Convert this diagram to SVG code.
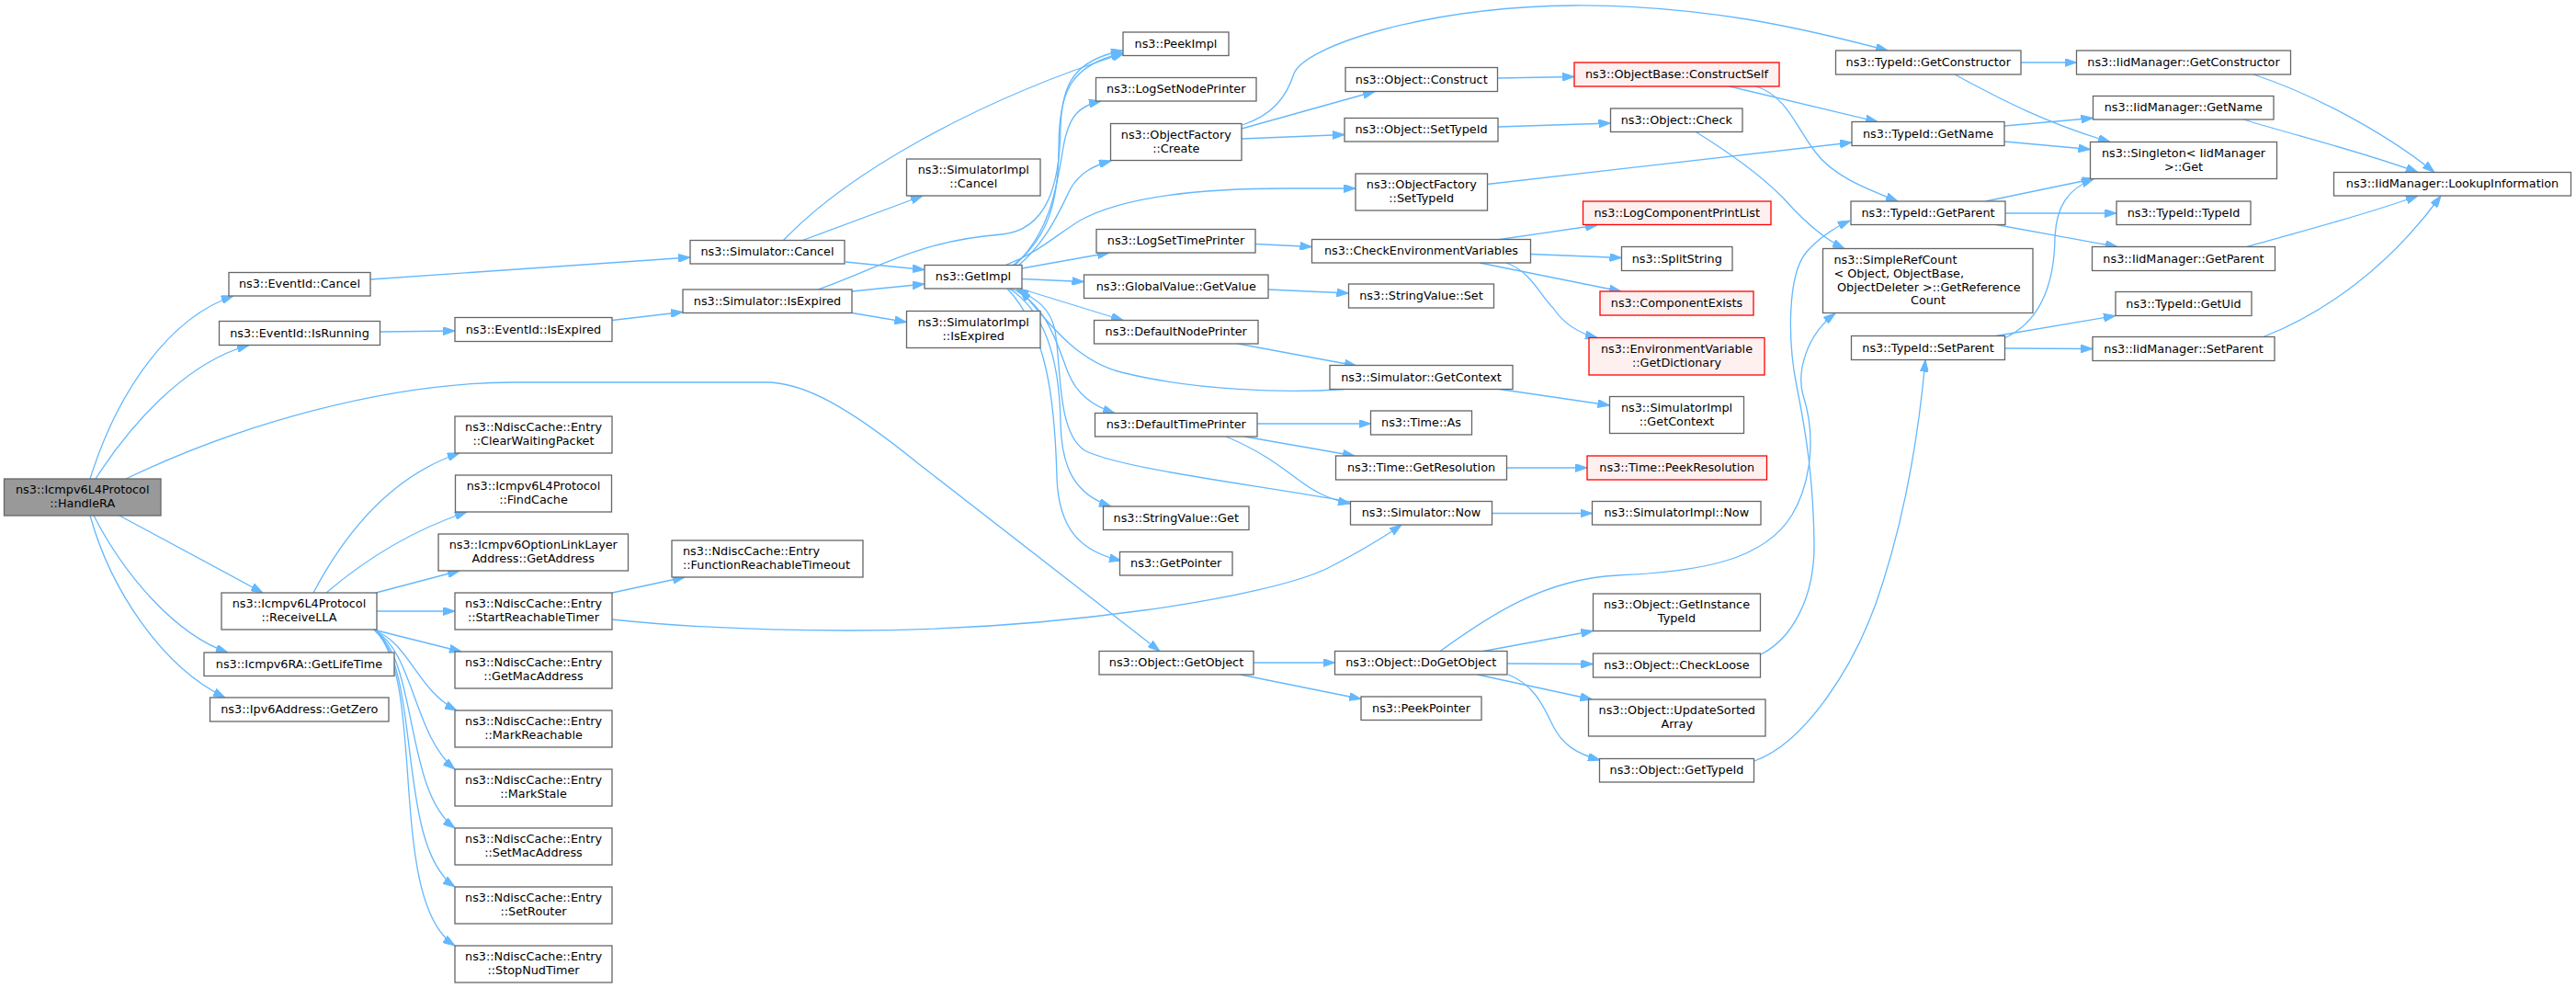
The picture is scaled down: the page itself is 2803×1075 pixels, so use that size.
<svg xmlns="http://www.w3.org/2000/svg" width="2803" height="1075" viewBox="0 0 2803 1075">
<style>
.n rect{fill:#ffffff;stroke:#666666;stroke-width:1.3}
.r rect{fill:#fff0f0;stroke:#ff0000;stroke-width:1.3}
.root rect{fill:#999999;stroke:#666666;stroke-width:1.3}
text{font-family:"DejaVu Sans","Liberation Sans",sans-serif;font-size:12.8px;fill:#000000;text-anchor:middle}
text.l{text-anchor:start}
#edges path{fill:none;stroke:#63b8ff;stroke-width:1.3;marker-end:url(#a)}
</style>
<defs>
<marker id="a" viewBox="0 0 13 9" refX="13" refY="4.5" markerWidth="13" markerHeight="9" markerUnits="userSpaceOnUse" orient="auto"><path d="M0,0L13,4.5L0,9z" fill="#63b8ff" stroke="#63b8ff" stroke-width="1"/></marker>
</defs>
<rect x="0" y="0" width="2803" height="1075" fill="#ffffff"/>
<g id="edges">
<path d="M98,521 C128,425 185,345 254,322"/>
<path d="M104,521 C140,465 200,395 271,375.5"/>
<path d="M137,521 C260,462 420,416 560,416 L838,416 C875,418 920,440 1000,505 L1262,708.5"/>
<path d="M130,561 L286,645"/>
<path d="M102,561 C135,625 190,690 248,710"/>
<path d="M98,561 C120,640 175,725 245,759"/>
<path d="M341,645 C370,590 420,520 500,493"/>
<path d="M355,645 C390,615 440,580 508,557"/>
<path d="M409,645 L500,621"/>
<path d="M410,665 L495,665"/>
<path d="M406,685 L502,709"/>
<path d="M408,686 C445,700 455,752 497,773"/>
<path d="M408,686 C450,710 450,800 495,837"/>
<path d="M408,686 C455,720 440,860 495,901"/>
<path d="M408,686 C460,730 430,920 495,965"/>
<path d="M408,686 C465,740 420,980 495,1029"/>
<path d="M666,645 L745,628"/>
<path d="M666,674 C760,684 850,686 923,686 C1150,686 1380,650 1445,618 C1480,600 1505,585 1525,571"/>
<path d="M403,304 L751,280"/>
<path d="M413.5,361 L495,360"/>
<path d="M666,348.5 L743,339.5"/>
<path d="M852,262 C920,190 1060,110 1223,58"/>
<path d="M872,262 L1004,213"/>
<path d="M920,285 L1006,293.5"/>
<path d="M927,317 L1006,309"/>
<path d="M927,340.5 L986.5,350.5"/>
<path d="M890,315 C960,290 1000,262 1090,255 C1140,250 1153,200 1154,140 C1155,90 1170,65 1222,55"/>
<path d="M1102,289 C1140,260 1152,220 1152,160 C1152,100 1165,70 1222,58"/>
<path d="M1104,289 C1145,250 1150,200 1157,160 C1163,125 1175,115 1198,110"/>
<path d="M1108,289 C1140,262 1155,225 1165,205 C1175,188 1190,180 1209,175"/>
<path d="M1093,289 C1130,275 1150,255 1175,240 C1220,215 1300,205 1400,205 L1475,205"/>
<path d="M1112,292 L1207,275"/>
<path d="M1112,303.5 L1179.5,306.5"/>
<path d="M1110,314 L1222,348.5"/>
<path d="M1100,314 C1140,330 1152,380 1162,405 C1172,430 1190,442 1213,449.5"/>
<path d="M1098,314 C1140,340 1153,400 1154,460 C1155,510 1170,538 1209,551"/>
<path d="M1096,314 C1140,360 1148,440 1150,520 C1152,575 1175,600 1220,610"/>
<path d="M1462,423.5 C1400,428 1300,425 1220,405 C1170,392 1140,350 1110,315"/>
<path d="M1469,546 C1350,525 1220,510 1180,490 C1150,470 1155,400 1148,360 C1143,335 1128,325 1106,315"/>
<path d="M1347,374 L1476,398"/>
<path d="M1368,461 L1491.5,461"/>
<path d="M1354,475 L1474,496"/>
<path d="M1334,475 C1370,490 1390,505 1410,520 C1430,535 1445,543 1469,548"/>
<path d="M1366,265.5 L1427.5,268.5"/>
<path d="M1380,315 L1467.5,319"/>
<path d="M1352,136 C1385,125 1400,105 1408,80 C1420,50 1550,8 1712,6 C1850,5 1960,30 2054,55"/>
<path d="M1351,140 L1496,99.5"/>
<path d="M1351,151 L1463,146.5"/>
<path d="M1629.5,85 L1713,83.5"/>
<path d="M1630,138 L1752.5,134"/>
<path d="M1618,200.5 L2015,155"/>
<path d="M1882,94 L2043,132.5"/>
<path d="M1911,94 C1945,105 1955,140 1975,165 C1995,192 2030,205 2065,219"/>
<path d="M1846,144 C1880,165 1915,190 1940,215 C1962,240 1985,260 2007,270.5"/>
<path d="M1632,260.5 L1738,245"/>
<path d="M1665.5,276.5 L1764.5,280.5"/>
<path d="M1610,286 L1764,317"/>
<path d="M1639,286 C1665,295 1675,320 1690,335 C1700,350 1715,362 1738,367.5"/>
<path d="M1632,423.5 L1751.5,441"/>
<path d="M1639.5,509 L1727,509"/>
<path d="M1624,558.5 L1732.5,558.5"/>
<path d="M2199,68 L2259.5,68"/>
<path d="M2127,81 C2180,110 2230,135 2296,154.5"/>
<path d="M2181,137 L2277.5,128.5"/>
<path d="M2181,154 L2274.5,162.5"/>
<path d="M2160.5,219 L2278.5,194.5"/>
<path d="M2182,232 L2303,232"/>
<path d="M2172,244.5 L2304,268.5"/>
<path d="M2452,81 C2510,100 2590,140 2649,187.5"/>
<path d="M2441,130 C2500,148 2570,165 2631,187.5"/>
<path d="M2445,268.5 C2510,250 2570,235 2631,213"/>
<path d="M2463,366.5 C2530,340 2600,290 2656,213"/>
<path d="M1364,721 L1452.5,721"/>
<path d="M1349.5,734 L1481,760.5"/>
<path d="M1567,708.5 C1620,670 1680,630 1760,626 C1850,622 1920,610 1950,560 C1968,530 1978,480 1962,430 C1955,405 1965,365 1997,341"/>
<path d="M1916,712 C1950,695 1975,650 1974,590 C1973,520 1965,470 1955,420 C1945,370 1945,300 1965,275 C1980,258 1995,248 2013,240"/>
<path d="M1614,708.5 L1733.5,686.5"/>
<path d="M1640,722 L1733.5,722.5"/>
<path d="M1607.5,734 L1732.5,761"/>
<path d="M1641,734 C1670,745 1680,770 1690,790 C1700,810 1715,820 1741,827"/>
<path d="M1909,828 C1960,810 2020,730 2050,630 C2075,550 2088,470 2095,391.5"/>
<path d="M2181,368 C2220,350 2235,310 2236,260 C2237,225 2250,205 2278,195"/>
<path d="M2172,365.5 L2302,343.5"/>
<path d="M2181.5,379 L2277,379.5"/>
</g>
<g id="n_handlera" class="root"><rect x="4.5" y="521" width="170.5" height="40"/><text x="89.75" y="537">ns3::Icmpv6L4Protocol</text><text x="89.75" y="552">::HandleRA</text></g>
<g id="n_evcancel" class="n"><rect x="249" y="296.5" width="154" height="25.5"/><text x="326" y="313.25">ns3::EventId::Cancel</text></g>
<g id="n_evisrunning" class="n"><rect x="238.5" y="349.5" width="175" height="26"/><text x="326" y="366.5">ns3::EventId::IsRunning</text></g>
<g id="n_receivella" class="n"><rect x="241" y="645" width="169" height="40"/><text x="325.5" y="661">ns3::Icmpv6L4Protocol</text><text x="325.5" y="676">::ReceiveLLA</text></g>
<g id="n_getlifetime" class="n"><rect x="222" y="710" width="207" height="25.5"/><text x="325.5" y="726.75">ns3::Icmpv6RA::GetLifeTime</text></g>
<g id="n_getzero" class="n"><rect x="228.5" y="759" width="194.5" height="26"/><text x="325.75" y="776">ns3::Ipv6Address::GetZero</text></g>
<g id="n_evisexpired" class="n"><rect x="495" y="345.5" width="171" height="26"/><text x="580.5" y="362.5">ns3::EventId::IsExpired</text></g>
<g id="n_clearwaiting" class="n"><rect x="495" y="453" width="171" height="40"/><text x="580.5" y="469">ns3::NdiscCache::Entry</text><text x="580.5" y="484">::ClearWaitingPacket</text></g>
<g id="n_findcache" class="n"><rect x="495.5" y="517" width="170" height="40"/><text x="580.5" y="533">ns3::Icmpv6L4Protocol</text><text x="580.5" y="548">::FindCache</text></g>
<g id="n_getaddress" class="n"><rect x="477" y="581" width="206.5" height="40"/><text x="580.25" y="597">ns3::Icmpv6OptionLinkLayer</text><text x="580.25" y="612">Address::GetAddress</text></g>
<g id="n_startreach" class="n"><rect x="495" y="645" width="171" height="40"/><text x="580.5" y="661">ns3::NdiscCache::Entry</text><text x="580.5" y="676">::StartReachableTimer</text></g>
<g id="n_getmac" class="n"><rect x="495" y="709" width="171" height="40"/><text x="580.5" y="725">ns3::NdiscCache::Entry</text><text x="580.5" y="740">::GetMacAddress</text></g>
<g id="n_markreach" class="n"><rect x="495" y="773" width="171" height="40"/><text x="580.5" y="789">ns3::NdiscCache::Entry</text><text x="580.5" y="804">::MarkReachable</text></g>
<g id="n_markstale" class="n"><rect x="495" y="837" width="171" height="40"/><text x="580.5" y="853">ns3::NdiscCache::Entry</text><text x="580.5" y="868">::MarkStale</text></g>
<g id="n_setmac" class="n"><rect x="495" y="901" width="171" height="40"/><text x="580.5" y="917">ns3::NdiscCache::Entry</text><text x="580.5" y="932">::SetMacAddress</text></g>
<g id="n_setrouter" class="n"><rect x="495" y="965" width="171" height="40"/><text x="580.5" y="981">ns3::NdiscCache::Entry</text><text x="580.5" y="996">::SetRouter</text></g>
<g id="n_stopnud" class="n"><rect x="495" y="1029" width="171" height="40"/><text x="580.5" y="1045">ns3::NdiscCache::Entry</text><text x="580.5" y="1060">::StopNudTimer</text></g>
<g id="n_simcancel" class="n"><rect x="751" y="261.5" width="168" height="25.5"/><text x="835" y="278.25">ns3::Simulator::Cancel</text></g>
<g id="n_simisexpired" class="n"><rect x="743" y="315" width="184" height="25.5"/><text x="835" y="331.75">ns3::Simulator::IsExpired</text></g>
<g id="n_funcreach" class="n"><rect x="731" y="588" width="208" height="40"/><text class="l" x="743" y="604">ns3::NdiscCache::Entry</text><text class="l" x="743" y="619">::FunctionReachableTimeout</text></g>
<g id="n_simimplcancel" class="n"><rect x="986.5" y="173" width="145.5" height="40"/><text x="1059.25" y="189">ns3::SimulatorImpl</text><text x="1059.25" y="204">::Cancel</text></g>
<g id="n_getimpl" class="n"><rect x="1006" y="288.5" width="106" height="25.5"/><text x="1059" y="305.25">ns3::GetImpl</text></g>
<g id="n_simimplisexpired" class="n"><rect x="986.5" y="338.5" width="145.5" height="40"/><text x="1059.25" y="354.5">ns3::SimulatorImpl</text><text x="1059.25" y="369.5">::IsExpired</text></g>
<g id="n_peekimpl" class="n"><rect x="1222" y="35" width="115" height="25.5"/><text x="1279.5" y="51.75">ns3::PeekImpl</text></g>
<g id="n_logsetnode" class="n"><rect x="1192.5" y="84.5" width="174.5" height="25.5"/><text x="1279.75" y="101.25">ns3::LogSetNodePrinter</text></g>
<g id="n_ofcreate" class="n"><rect x="1208.5" y="134.5" width="142.5" height="40"/><text x="1279.75" y="150.5">ns3::ObjectFactory</text><text x="1279.75" y="165.5">::Create</text></g>
<g id="n_logsettime" class="n"><rect x="1193" y="249.5" width="173" height="25.5"/><text x="1279.5" y="266.25">ns3::LogSetTimePrinter</text></g>
<g id="n_gvgetvalue" class="n"><rect x="1179.5" y="299" width="200.5" height="25.5"/><text x="1279.75" y="315.75">ns3::GlobalValue::GetValue</text></g>
<g id="n_defnodeprinter" class="n"><rect x="1190.5" y="348.5" width="178.5" height="25.5"/><text x="1279.75" y="365.25">ns3::DefaultNodePrinter</text></g>
<g id="n_deftimeprinter" class="n"><rect x="1191.5" y="449.5" width="176.5" height="25.5"/><text x="1279.75" y="466.25">ns3::DefaultTimePrinter</text></g>
<g id="n_stringvalueget" class="n"><rect x="1200.5" y="551" width="158.5" height="25.5"/><text x="1279.75" y="567.75">ns3::StringValue::Get</text></g>
<g id="n_getpointer" class="n"><rect x="1218.5" y="600.5" width="122.5" height="25.5"/><text x="1279.75" y="617.25">ns3::GetPointer</text></g>
<g id="n_getobject" class="n"><rect x="1196" y="708.5" width="168" height="25.5"/><text x="1280" y="725.25">ns3::Object::GetObject</text></g>
<g id="n_objconstruct" class="n"><rect x="1464" y="73.5" width="165.5" height="26"/><text x="1546.75" y="90.5">ns3::Object::Construct</text></g>
<g id="n_objsettypeid" class="n"><rect x="1463" y="128.5" width="167" height="25.5"/><text x="1546.5" y="145.25">ns3::Object::SetTypeId</text></g>
<g id="n_ofsettypeid" class="n"><rect x="1475" y="189" width="143.5" height="40"/><text x="1546.75" y="205">ns3::ObjectFactory</text><text x="1546.75" y="220">::SetTypeId</text></g>
<g id="n_checkenv" class="n"><rect x="1427.5" y="260.5" width="238" height="25.5"/><text x="1546.5" y="277.25">ns3::CheckEnvironmentVariables</text></g>
<g id="n_stringvalueset" class="n"><rect x="1467.5" y="309" width="158" height="26"/><text x="1546.5" y="326">ns3::StringValue::Set</text></g>
<g id="n_simgetcontext" class="n"><rect x="1447" y="397.5" width="199" height="26"/><text x="1546.5" y="414.5">ns3::Simulator::GetContext</text></g>
<g id="n_timeas" class="n"><rect x="1491.5" y="447" width="110" height="26"/><text x="1546.5" y="464">ns3::Time::As</text></g>
<g id="n_timegetres" class="n"><rect x="1453.5" y="496" width="186" height="26"/><text x="1546.5" y="513">ns3::Time::GetResolution</text></g>
<g id="n_simnow" class="n"><rect x="1469.5" y="545.5" width="154" height="25.5"/><text x="1546.5" y="562.25">ns3::Simulator::Now</text></g>
<g id="n_dogetobject" class="n"><rect x="1452.5" y="708.5" width="187.5" height="25.5"/><text x="1546.25" y="725.25">ns3::Object::DoGetObject</text></g>
<g id="n_peekpointer" class="n"><rect x="1481" y="758" width="131" height="25.5"/><text x="1546.5" y="774.75">ns3::PeekPointer</text></g>
<g id="n_constructself" class="r"><rect x="1713" y="68" width="223" height="26"/><text x="1824.5" y="85">ns3::ObjectBase::ConstructSelf</text></g>
<g id="n_objcheck" class="n"><rect x="1752.5" y="118" width="143.5" height="25.5"/><text x="1824.25" y="134.75">ns3::Object::Check</text></g>
<g id="n_logcompprint" class="r"><rect x="1722.5" y="219" width="204.5" height="25.5"/><text x="1824.75" y="235.75">ns3::LogComponentPrintList</text></g>
<g id="n_splitstring" class="n"><rect x="1764.5" y="268.5" width="120.5" height="26"/><text x="1824.75" y="285.5">ns3::SplitString</text></g>
<g id="n_compexists" class="r"><rect x="1741" y="317" width="167" height="26"/><text x="1824.5" y="334">ns3::ComponentExists</text></g>
<g id="n_envvardict" class="r"><rect x="1729" y="367.5" width="191" height="40.5"/><text x="1824.5" y="383.75">ns3::EnvironmentVariable</text><text x="1824.5" y="398.75">::GetDictionary</text></g>
<g id="n_simimplgetcontext" class="n"><rect x="1751.5" y="431.5" width="146" height="40"/><text x="1824.5" y="447.5">ns3::SimulatorImpl</text><text x="1824.5" y="462.5">::GetContext</text></g>
<g id="n_timepeekres" class="r"><rect x="1727" y="496" width="195.5" height="26"/><text x="1824.75" y="513">ns3::Time::PeekResolution</text></g>
<g id="n_simimplnow" class="n"><rect x="1732.5" y="545.5" width="183.5" height="25.5"/><text x="1824.25" y="562.25">ns3::SimulatorImpl::Now</text></g>
<g id="n_getinstancetid" class="n"><rect x="1733.5" y="646" width="182" height="40.5"/><text x="1824.5" y="662.25">ns3::Object::GetInstance</text><text x="1824.5" y="677.25">TypeId</text></g>
<g id="n_checkloose" class="n"><rect x="1733.5" y="711" width="182" height="26"/><text x="1824.5" y="728">ns3::Object::CheckLoose</text></g>
<g id="n_updatesorted" class="n"><rect x="1728.5" y="761" width="192.5" height="40"/><text x="1824.75" y="777">ns3::Object::UpdateSorted</text><text x="1824.75" y="792">Array</text></g>
<g id="n_objgettypeid" class="n"><rect x="1740.5" y="825.5" width="168" height="25.5"/><text x="1824.5" y="842.25">ns3::Object::GetTypeId</text></g>
<g id="n_tidgetconstructor" class="n"><rect x="1997.5" y="55" width="201.5" height="26"/><text x="2098.25" y="72">ns3::TypeId::GetConstructor</text></g>
<g id="n_tidgetname" class="n"><rect x="2015" y="132.5" width="166" height="26"/><text x="2098" y="149.5">ns3::TypeId::GetName</text></g>
<g id="n_tidgetparent" class="n"><rect x="2014" y="219" width="168" height="25.5"/><text x="2098" y="235.75">ns3::TypeId::GetParent</text></g>
<g id="n_simplerefcount" class="n"><rect x="1983.5" y="270.5" width="228.5" height="70"/><text class="l" x="1995.5" y="287">ns3::SimpleRefCount</text><text class="l" x="1995.5" y="301.8">&lt; Object, ObjectBase,</text><text class="l" x="1999" y="316.5">ObjectDeleter &gt;::GetReference</text><text x="2098" y="331.2">Count</text></g>
<g id="n_tidsetparent" class="n"><rect x="2014.5" y="365.5" width="167" height="26"/><text x="2098" y="382.5">ns3::TypeId::SetParent</text></g>
<g id="n_iidgetconstructor" class="n"><rect x="2259.5" y="55" width="233" height="26"/><text x="2376" y="72">ns3::IidManager::GetConstructor</text></g>
<g id="n_iidgetname" class="n"><rect x="2277.5" y="104.5" width="196.5" height="25.5"/><text x="2375.75" y="121.25">ns3::IidManager::GetName</text></g>
<g id="n_singleton" class="n"><rect x="2274.5" y="154.5" width="203" height="40"/><text x="2376" y="170.5">ns3::Singleton&lt; IidManager</text><text x="2376" y="185.5">&gt;::Get</text></g>
<g id="n_tidtypeid" class="n"><rect x="2303" y="219" width="146" height="25.5"/><text x="2376" y="235.75">ns3::TypeId::TypeId</text></g>
<g id="n_iidgetparent" class="n"><rect x="2276.5" y="268.5" width="199" height="26"/><text x="2376" y="285.5">ns3::IidManager::GetParent</text></g>
<g id="n_tidgetuid" class="n"><rect x="2302" y="317.5" width="148" height="26"/><text x="2376" y="334.5">ns3::TypeId::GetUid</text></g>
<g id="n_iidsetparent" class="n"><rect x="2277" y="366.5" width="198" height="26"/><text x="2376" y="383.5">ns3::IidManager::SetParent</text></g>
<g id="n_lookup" class="n"><rect x="2539.5" y="187.5" width="258" height="25.5"/><text x="2668.5" y="204.25">ns3::IidManager::LookupInformation</text></g>
</svg>
